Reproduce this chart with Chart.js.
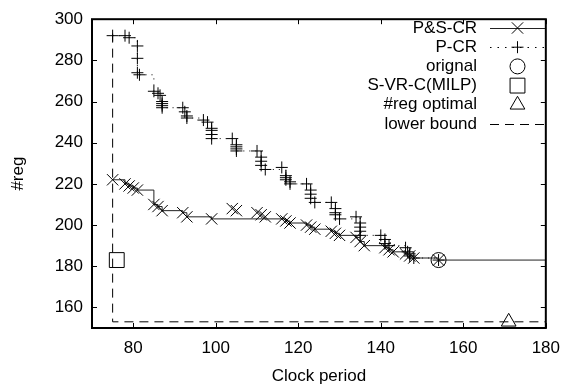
<!DOCTYPE html>
<html>
<head>
<meta charset="utf-8">
<script src="https://cdn.jsdelivr.net/npm/chart.js@4.4.0/dist/chart.umd.min.js"></script>
<style>
  html, body { margin: 0; padding: 0; background: #fff; }
  #wrap { width: 570px; height: 387px; }
</style>
</head>
<body>
<div id="wrap"><canvas id="chart" width="570" height="387"></canvas></div>
<script>
// P&S-CR: results on the front (step line)
const psFrontX = [75, 78, 79, 80, 81, 85, 86, 87, 92, 93, 99, 116, 117, 118, 122, 123, 124, 128, 129, 130, 134, 135, 136, 141, 142, 143, 146, 147, 148, 154, 180];
const psFrontY = [222, 220, 219, 218, 217, 210, 209, 207, 206, 204, 203, 203, 202, 201, 200, 199, 198, 197, 196, 195, 194, 192, 190, 189, 188, 187, 186, 185, 184, 183, 183];
// P&S-CR: results above the front (markers only)
const psOtherX = [104, 105, 110, 111, 112];
const psOtherY = [208, 207, 206, 205, 204];

// P-CR
const pcrX = [75, 78, 79, 81, 81, 81, 81.5, 85, 86, 86.5, 87, 87, 87, 87,
  92, 92.5, 93, 93, 97, 98, 99, 99, 99, 99, 104, 105, 105, 105, 105,
  110, 111, 111, 111, 112, 116, 117, 117, 117, 118, 118, 122, 123, 123, 123, 124,
  128, 129, 129, 129, 130, 134, 135, 135, 135, 135, 140, 141, 141, 142,
  146, 146.5, 147, 147, 148, 154];
const pcrY = [292, 292, 291, 287, 281, 274, 273, 265, 264, 263, 260, 259, 258, 257,
  257, 255, 253, 252, 251, 250, 247, 246, 244, 242, 242, 239, 238, 237, 236,
  236, 233, 231, 229, 227, 228, 224, 223, 222, 221, 220, 220, 217, 215, 213, 211,
  211, 208, 206, 205, 203, 204, 201, 199, 197, 195, 195, 193, 191, 190,
  189, 187, 186, 185, 184, 183];

const originalX = [154];
const originalY = [183];
const milpX = [76];
const milpY = [183];
const optimalX = [171];
const optimalY = [153];
const lowerX = [75, 75, 180];
const lowerY = [293, 153, 153];

const xTicks = [80, 100, 120, 140, 160, 180];
const yTicks = [160, 180, 200, 220, 240, 260, 280, 300];

const pts = (xs, ys) => xs.map((x, i) => ({ x: x, y: ys[i] }));
const FONT = { family: '"Liberation Sans", Arial, sans-serif', size: 17 };

const framePlugin = {
  id: 'frame',
  beforeDatasetsDraw(chart) {
    const { ctx, chartArea: a, scales: { x, y } } = chart;
    ctx.save();
    ctx.strokeStyle = '#000';
    ctx.lineWidth = 1;
    ctx.beginPath();
    xTicks.forEach(v => {
      const px = Math.round(x.getPixelForValue(v)) + 0.5;
      ctx.moveTo(px, a.bottom); ctx.lineTo(px, a.bottom - 5);
      ctx.moveTo(px, a.top); ctx.lineTo(px, a.top + 5);
    });
    yTicks.forEach(v => {
      const py = Math.round(y.getPixelForValue(v)) + 0.5;
      ctx.moveTo(a.left, py); ctx.lineTo(a.left + 5, py);
      ctx.moveTo(a.right, py); ctx.lineTo(a.right - 5, py);
    });
    ctx.stroke();
    ctx.restore();
  },
  afterDraw(chart) {
    const { ctx, chartArea: a } = chart;
    ctx.save();
    ctx.strokeStyle = '#000';
    ctx.lineWidth = 2;
    ctx.strokeRect(a.left, a.top, a.width, a.height);

    // legend, top right inside the plot
    const textRight = 477, s0 = 490, s1 = 545;
    let row = 0;
    chart.data.datasets.forEach(ds => {
      if (ds.noLegend) return;
      const yy = 28 + row * 19.2;
      ctx.fillStyle = '#000';
      ctx.font = '17px "Liberation Sans", Arial, sans-serif';
      ctx.textAlign = 'right';
      ctx.textBaseline = 'middle';
      ctx.fillText(ds.label, textRight, yy);
      if (ds.showLine) {
        ctx.beginPath();
        ctx.lineWidth = 1;
        ctx.strokeStyle = ds.borderColor;
        ctx.setLineDash(ds.legendDash || ds.borderDash || []);
        ctx.moveTo(s0, Math.round(yy) + 0.5);
        ctx.lineTo(s1, Math.round(yy) + 0.5);
        ctx.stroke();
        ctx.setLineDash([]);
      }
      if (ds.legendRadius) {
        ctx.strokeStyle = '#000';
        ctx.fillStyle = 'rgba(0,0,0,0)';
        ctx.lineWidth = 1;
        Chart.helpers.drawPoint(ctx, { pointStyle: ds.pointStyle, radius: ds.legendRadius, rotation: 0, borderWidth: 1 }, (s0 + s1) / 2, yy);
      }
      row++;
    });
    ctx.restore();
  }
};

const lastFront = psFrontX.length - 1;

new Chart(document.getElementById('chart'), {
  type: 'scatter',
  data: {
    datasets: [
      {
        label: 'P&S-CR',
        data: pts(psFrontX, psFrontY),
        showLine: true,
        stepped: true,
        borderColor: '#222',
        borderWidth: 1,
        pointStyle: 'crossRot',
        pointRadius: ctx => ctx.dataIndex === lastFront ? 0 : 8,
        pointBorderColor: '#000',
        pointBorderWidth: 1,
        legendRadius: 8
      },
      {
        label: 'P&S-CR (other)',
        data: pts(psOtherX, psOtherY),
        showLine: false,
        pointStyle: 'crossRot',
        pointRadius: 8,
        pointBorderColor: '#000',
        pointBorderWidth: 1,
        noLegend: true
      },
      {
        label: 'P-CR',
        data: pts(pcrX, pcrY),
        showLine: true,
        stepped: true,
        borderColor: '#000',
        borderWidth: 1,
        borderDash: [1, 5],
        legendDash: [1.5, 6],
        pointStyle: 'cross',
        pointRadius: 6,
        pointBorderColor: '#000',
        pointBorderWidth: 1,
        legendRadius: 6
      },
      {
        label: 'orignal',
        data: pts(originalX, originalY),
        pointStyle: 'circle',
        pointRadius: 7.5,
        pointBackgroundColor: 'rgba(0,0,0,0)',
        pointBorderColor: '#000',
        pointBorderWidth: 1,
        legendRadius: 7.5
      },
      {
        label: 'S-VR-C(MILP)',
        data: pts(milpX, milpY),
        pointStyle: 'rect',
        pointRadius: 10.5,
        pointBackgroundColor: 'rgba(0,0,0,0)',
        pointBorderColor: '#000',
        pointBorderWidth: 1,
        legendRadius: 10.5
      },
      {
        label: '#reg optimal',
        data: pts(optimalX, optimalY),
        pointStyle: 'triangle',
        pointRadius: 8.5,
        pointBackgroundColor: 'rgba(0,0,0,0)',
        pointBorderColor: '#000',
        pointBorderWidth: 1,
        legendRadius: 8.5
      },
      {
        label: 'lower bound',
        data: pts(lowerX, lowerY),
        showLine: true,
        borderColor: '#000',
        borderWidth: 1,
        borderDash: [9, 6],
        pointRadius: 0
      }
    ]
  },
  options: {
    responsive: false,
    animation: false,
    layout: { padding: { top: 14, right: 18, left: 0, bottom: 0 } },
    plugins: { legend: { display: false }, tooltip: { enabled: false } },
    scales: {
      x: {
        type: 'linear',
        min: 70,
        max: 180,
        afterBuildTicks: s => { s.ticks = xTicks.map(v => ({ value: v })); },
        afterFit: s => { s.height = 59; },
        grid: { display: false, drawTicks: false },
        border: { display: false },
        ticks: { color: '#000', font: FONT, padding: 10, maxRotation: 0 },
        title: { display: true, text: 'Clock period', color: '#000', font: FONT, padding: { top: 0, bottom: 0 } }
      },
      y: {
        type: 'linear',
        min: 150,
        max: 300,
        afterBuildTicks: s => { s.ticks = yTicks.map(v => ({ value: v })); },
        afterFit: s => { s.width = 92; },
        grid: { display: false, drawTicks: false },
        border: { display: false },
        ticks: { color: '#000', font: FONT, padding: 9 },
        title: { display: true, text: '#reg', color: '#000', font: FONT, padding: { top: 8, bottom: 0 } }
      }
    }
  },
  plugins: [framePlugin]
});
</script>
</body>
</html>
